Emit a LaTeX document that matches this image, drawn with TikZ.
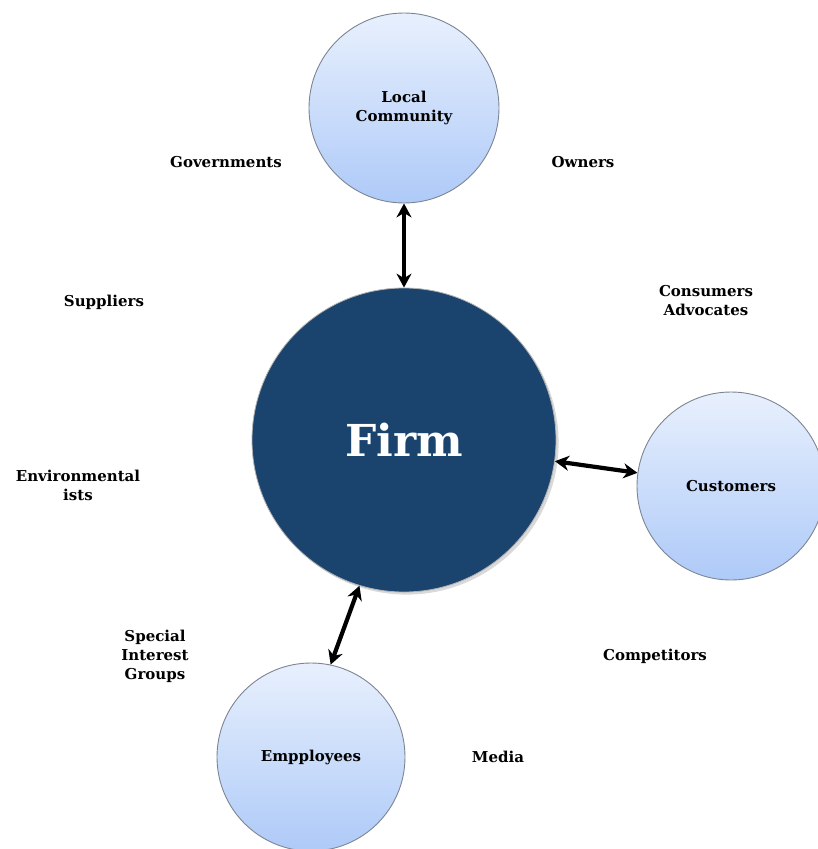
\documentclass[tikz,border=0pt]{standalone}
\usepackage{fontspec}
\setmainfont{DejaVu Serif}
\usetikzlibrary{arrows.meta,shadows}
\definecolor{firmblue}{HTML}{1A436D}
\definecolor{ringtop}{HTML}{E8F0FD}
\definecolor{ringbot}{HTML}{AECAF8}
\definecolor{ringline}{HTML}{7D8592}
\tikzset{
  party/.style={circle, draw=ringline, line width=0.9pt, minimum size=#1,
    top color=ringtop, bottom color=ringbot, align=center,
    font=\bfseries\fontsize{15}{19}\selectfont},
  holder/.style={align=center, font=\bfseries\fontsize{15}{19}\selectfont},
  link/.style={{Stealth[length=14pt,width=15pt]}-{Stealth[length=14pt,width=15pt]}, line width=4.2pt}
}
\begin{document}
\begin{tikzpicture}[x=1pt,y=1pt]
                    \useasboundingbox (0,0) rectangle (818,-849);
                    % Circles
                    \node[party=190pt] (local) at (404,-108) {Local\\Community};
                    \node[circle, fill=firmblue, draw=gray!60, line width=0.8pt,
                          minimum size=304pt, drop shadow={opacity=0.3},
                          text=white, font=\bfseries\fontsize{44}{50}\selectfont]
                          (firm) at (404,-440) {Firm};
                    \node[party=188pt] (cust) at (731,-486) {Customers};
                    \node[party=188pt] (empl) at (311,-757) {Empployees};
                    % Arrows
                    \draw[link] (local) -- (firm);
                    \draw[link] (firm.-8) -- (cust.172);
                    \draw[link] (firm.253) -- (empl.78);
                    % Other stakeholders
                    \node[holder] (gov) at (226,-162) {Governments};
                    \node[holder] (own) at (583,-162) {Owners};
                    \node[holder] (sup) at (104,-302) {Suppliers};
                    \node[holder] (cons) at (706,-301) {Consumers\\Advocates};
                    \node[holder] (env) at (78,-485) {Environmental\\ists};
                    \node[holder] (sig) at (155,-656) {Special\\Interest\\Groups};
                    \node[holder] (comp) at (655,-656) {Competitors};
                    \node[holder] (med) at (498,-757) {Media};
\end{tikzpicture}
\end{document}
